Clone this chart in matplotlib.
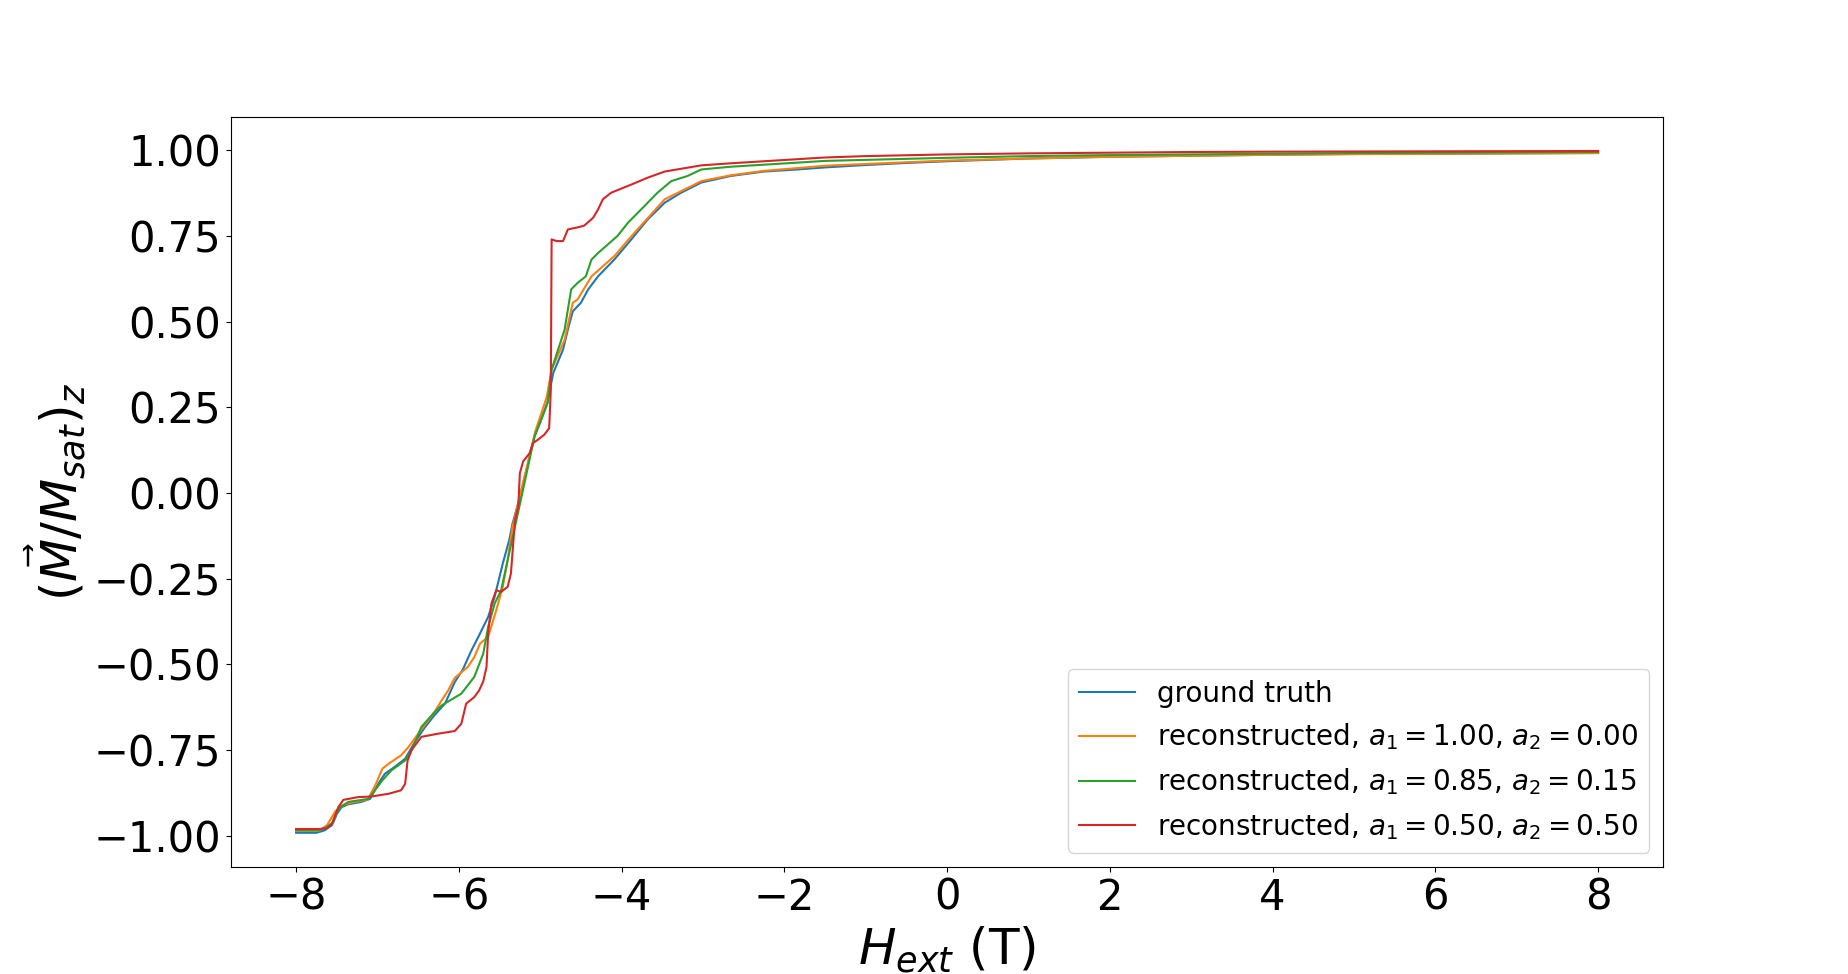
import numpy as np
import matplotlib
matplotlib.use("Agg")
import matplotlib.pyplot as plt

# values
h_truth = [-8.0, -7.75, -7.65, -7.56, -7.50, -7.44, -7.36, -7.20, -7.09, -6.99, -6.91, -6.79,
           -6.66, -6.54, -6.42, -6.30, -6.17, -6.05, -5.95, -5.85, -5.76, -5.64, -5.56, -5.46,
           -5.38, -5.34, -5.27, -5.21, -5.13, -5.07, -4.99, -4.91, -4.84, -4.72, -4.66, -4.60,
           -4.50, -4.41, -4.29, -4.09, -3.88, -3.68, -3.47, -3.27, -3.02, -2.66, -2.25, -1.84,
           -1.5, -1.0, -0.5, 0.0, 1.0, 2.0, 3.0, 4.0, 5.0, 6.0, 7.0, 8.0]
m_truth = [-0.992, -0.992, -0.985, -0.970, -0.937, -0.917, -0.909, -0.902, -0.893, -0.849, -0.820, -0.800,
           -0.776, -0.727, -0.685, -0.649, -0.615, -0.552, -0.515, -0.462, -0.420, -0.362, -0.303, -0.206,
           -0.137, -0.089, -0.030, 0.028, 0.106, 0.165, 0.213, 0.265, 0.350, 0.418, 0.477, 0.530,
           0.555, 0.594, 0.632, 0.681, 0.740, 0.798, 0.847, 0.876, 0.906, 0.925, 0.938, 0.944,
           0.950, 0.957, 0.963, 0.968, 0.976, 0.981, 0.984, 0.987, 0.989, 0.990, 0.991, 0.992]

h_rec100 = [-8.0, -7.72, -7.62, -7.52, -7.44, -7.30, -7.12, -7.02, -6.94, -6.86, -6.71, -6.62,
            -6.50, -6.30, -6.21, -6.13, -6.05, -5.89, -5.81, -5.74, -5.64, -5.54, -5.46, -5.40,
            -5.34, -5.27, -5.20, -5.13, -5.06, -4.99, -4.92, -4.86, -4.70, -4.60, -4.54, -4.37,
            -4.09, -3.88, -3.47, -3.02, -2.66, -2.25, -1.84, -1.5, -1.0, -0.5, 0.0, 1.0,
            2.0, 3.0, 4.0, 5.0, 6.0, 7.0, 8.0]
m_rec100 = [-0.986, -0.986, -0.970, -0.930, -0.912, -0.903, -0.895, -0.850, -0.805, -0.790, -0.766, -0.742,
            -0.703, -0.640, -0.605, -0.576, -0.540, -0.508, -0.479, -0.440, -0.420, -0.342, -0.274, -0.196,
            -0.098, -0.030, 0.040, 0.110, 0.180, 0.230, 0.280, 0.360, 0.447, 0.555, 0.565, 0.632,
            0.691, 0.749, 0.857, 0.910, 0.927, 0.940, 0.948, 0.955, 0.960, 0.965, 0.970, 0.976,
            0.981, 0.984, 0.987, 0.989, 0.990, 0.991, 0.992]

h_rec85 = [-8.0, -7.72, -7.62, -7.54, -7.48, -7.36, -7.11, -6.94, -6.83, -6.66, -6.58, -6.46,
           -6.30, -6.21, -5.97, -5.81, -5.70, -5.64, -5.56, -5.48, -5.40, -5.31, -5.23, -5.15,
           -5.07, -4.99, -4.91, -4.86, -4.70, -4.62, -4.54, -4.44, -4.37, -4.29, -4.05, -3.92,
           -3.72, -3.56, -3.39, -3.19, -3.02, -2.66, -1.84, -1.5, -1.0, 0.0, 1.0, 2.0,
           3.0, 4.0, 5.0, 6.0, 7.0, 8.0]
m_rec85 = [-0.985, -0.985, -0.975, -0.960, -0.922, -0.902, -0.893, -0.839, -0.810, -0.781, -0.751, -0.683,
           -0.640, -0.620, -0.586, -0.537, -0.469, -0.391, -0.323, -0.284, -0.196, -0.098, -0.011, 0.077,
           0.165, 0.213, 0.262, 0.360, 0.477, 0.594, 0.613, 0.632, 0.681, 0.700, 0.750, 0.789,
           0.837, 0.876, 0.910, 0.925, 0.944, 0.952, 0.964, 0.969, 0.972, 0.978, 0.983, 0.986,
           0.988, 0.990, 0.992, 0.993, 0.994, 0.995]

h_rec50 = [-8.0, -7.72, -7.62, -7.56, -7.48, -7.42, -7.24, -7.07, -6.86, -6.71, -6.66, -6.63,
           -6.58, -6.46, -6.26, -6.05, -5.97, -5.91, -5.81, -5.75, -5.70, -5.66, -5.64, -5.60,
           -5.54, -5.48, -5.40, -5.36, -5.31, -5.27, -5.25, -5.21, -5.13, -5.09, -5.03, -4.95,
           -4.89, -4.87, -4.86, -4.80, -4.72, -4.66, -4.54, -4.46, -4.35, -4.29, -4.23, -4.13,
           -3.88, -3.68, -3.47, -3.02, -2.66, -1.84, -1.5, -1.0, 0.0, 1.0, 2.0, 3.0,
           4.0, 6.0, 8.0]
m_rec50 = [-0.981, -0.981, -0.979, -0.965, -0.917, -0.896, -0.888, -0.886, -0.878, -0.868, -0.849, -0.781,
           -0.750, -0.712, -0.703, -0.695, -0.674, -0.615, -0.596, -0.576, -0.550, -0.508, -0.410, -0.323,
           -0.284, -0.289, -0.274, -0.235, -0.079, -0.040, 0.058, 0.092, 0.116, 0.145, 0.155, 0.170,
           0.189, 0.300, 0.740, 0.735, 0.735, 0.769, 0.775, 0.780, 0.803, 0.827, 0.857, 0.876,
           0.900, 0.920, 0.938, 0.956, 0.962, 0.974, 0.979, 0.983, 0.988, 0.991, 0.993, 0.995,
           0.996, 0.997, 0.998]

labels = ["ground truth",
          r"reconstructed, $a_1 = 1.00$, $a_2 = 0.00$",
          r"reconstructed, $a_1 = 0.85$, $a_2 = 0.15$",
          r"reconstructed, $a_1 = 0.50$, $a_2 = 0.50$"]

fig, ax = plt.subplots(figsize=(18.48, 9.74), dpi=100)

ax.plot(h_truth, m_truth, label=labels[0])
ax.plot(h_rec100, m_rec100, label=labels[1])
ax.plot(h_rec85, m_rec85, label=labels[2])
ax.plot(h_rec50, m_rec50, label=labels[3])

ax.set_xticks(np.arange(-8, 9, 2))
ax.set_yticks(np.arange(-1.0, 1.01, 0.25))
ax.tick_params(labelsize=30)
ax.set_xlabel(r"$H_{ext}$ (T)", fontsize=36)
ax.set_ylabel(r"$(\vec{M}/M_{sat})_z$", fontsize=36)
ax.legend(loc="lower right", fontsize=20)

fig.savefig("out.png", dpi=100)
